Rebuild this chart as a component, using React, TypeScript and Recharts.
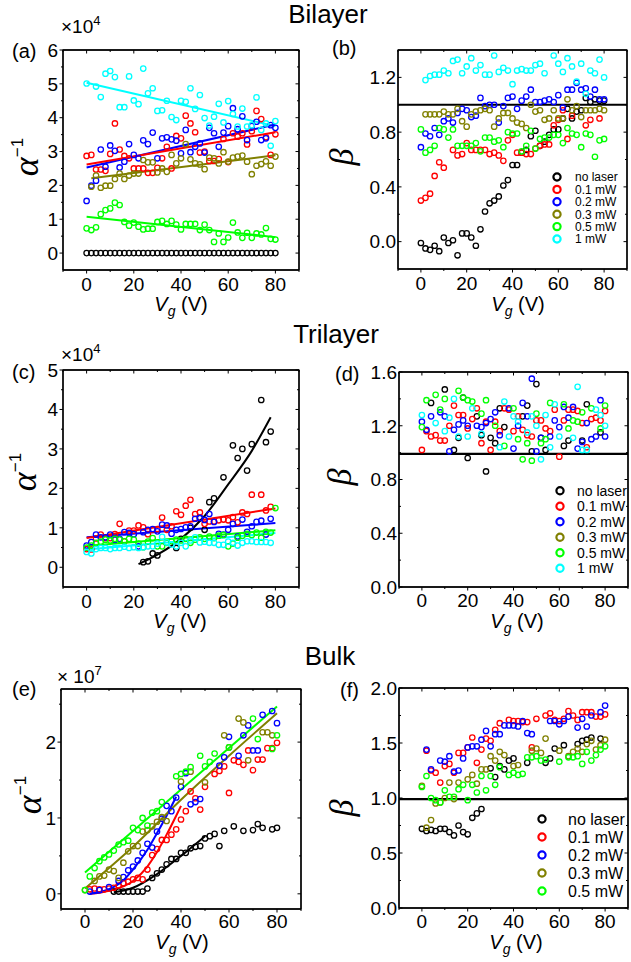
import React from 'react';
import { ComposedChart, Scatter, Line, XAxis, YAxis, ReferenceLine } from 'recharts';

const _ = null;
const VG = [0, 2, 4, 6, 8, 10, 12, 14, 16, 18, 20, 22, 24, 26, 28, 30, 32, 34, 36, 38, 40, 42, 44, 46, 48, 50, 52, 54, 56, 58, 60, 62, 64, 66, 68, 70, 72, 74, 76, 78, 80];
const LEGEND_LABELS = ['no laser', '0.1 mW', '0.2 mW', '0.3 mW', '0.5 mW', '1 mW'];
const COLORS = ['#000000', '#ff0000', '#0000ff', '#808000', '#00ff00', '#00ffff'];
const X_MAJOR = [0, 20, 40, 60, 80];
const X_MINOR = [-10, 10, 30, 50, 70, 90];

// ---------- (a) Bilayer alpha^-1 (x1e4)
const A_BLACK = [0, 0, 0, 0, 0, 0, 0, 0, 0, 0, 0, 0, 0, 0, 0, 0, 0, 0, 0, 0, 0, 0, 0, 0, 0, 0, 0, 0, 0, 0, 0, 0, 0, 0, 0, 0, 0, 0, 0, 0, 0];
const A_RED = [2.87, 2.90, 2.47, 2.47, 2.43, 2.93, 3.83, 3.06, 2.87, 2.80, 2.50, 2.50, 2.50, 2.37, 2.37, 2.52, 2.80, 3.14, 2.50, 3.46, 3.39, 4.06, 3.83, 3.57, 2.97, 3.00, 2.72, 2.72, 2.78, 3.37, 2.69, 3.54, 3.44, 3.54, 3.21, 3.60, 4.20, 3.96, 3.42, 2.90, 3.51];
const A_BLUE = [1.54, 1.99, 2.14, 3.06, 2.55, 3.18, 3.02, 2.53, 2.70, 3.22, 2.90, 2.80, 3.33, 3.22, 3.56, 2.80, 3.39, 3.42, 3.36, 3.32, 2.95, 3.64, 2.98, 3.14, 3.24, 2.97, 3.70, 3.54, 3.14, 3.56, 3.75, 4.28, 3.66, 4.04, 3.34, 3.75, 3.88, 3.34, 3.39, 3.78, 3.70];
const A_OLIVE = [_, 1.96, 2.29, 1.93, 1.99, 1.99, 2.19, 2.35, 2.19, 2.29, 2.35, 2.35, 2.75, 2.68, 2.68, 2.38, 2.50, 2.40, 2.90, 2.65, 2.80, 3.22, 2.77, 2.65, 2.62, 2.48, 2.82, 2.80, 2.65, 2.98, 2.70, 2.82, 2.85, 2.88, 2.70, 2.33, 2.58, 2.63, 2.71, 2.58, 2.85];
const A_GREEN = [0.73, 0.68, 0.76, 1.15, 1.27, 1.32, 1.49, 1.42, 0.92, 0.81, 0.90, 0.78, 0.70, 0.72, 0.72, 0.92, 0.95, 0.86, 0.95, 0.84, 0.70, 0.86, 0.86, 0.86, 0.68, 0.84, 0.68, 0.33, 0.58, 0.33, 0.46, 0.90, 0.61, 0.45, 0.60, 0.45, 0.58, 0.55, 0.74, 0.42, 0.40];
const A_CYAN = [5.01, _, 4.92, 4.61, 5.30, 5.38, 5.20, 4.31, 4.31, 5.22, 4.51, 4.40, 5.45, 4.72, 4.87, 4.20, 4.22, 4.50, 4.02, 3.93, 4.50, 4.47, 4.87, 4.26, 4.67, 3.99, 3.77, 4.03, 4.41, 3.86, 4.49, 4.11, 3.74, 4.27, 3.74, 3.78, 4.60, 3.64, 3.83, 3.17, 3.90];
const A_FIT_RED = [[0, 2.62], [80, 3.57]];
const A_FIT_BLUE = [[0, 2.53], [80, 3.80]];
const A_FIT_OLIVE = [[2, 2.21], [80, 2.89]];
const A_FIT_GREEN = [[0, 1.07], [80, 0.47]];
const A_FIT_CYAN = [[0, 5.03], [80, 3.75]];

// ---------- (b) Bilayer beta
const B_BLACK = [-0.01, -0.05, -0.06, -0.03, -0.07, 0.03, -0.01, 0.01, -0.10, 0.06, 0.06, 0.03, -0.03, 0.09, 0.22, 0.28, 0.30, 0.33, 0.41, 0.45, 0.56, 0.56, 0.65, 0.67, 0.77, 0.81, 0.70, 0.73, 0.78, 0.82, 0.82, 0.90, 0.97, 0.90, 0.95, 0.96, 1.05, 1.02, 1.04, 1.03, 1.03];
const B_RED = [0.30, 0.32, 0.35, 0.48, 0.58, 0.54, _, 0.67, 0.63, 0.64, 0.72, 0.67, 0.67, 0.67, 0.67, 0.64, 0.65, 0.63, 0.59, 0.74, 0.78, 0.65, 0.65, 0.64, 0.64, 0.68, 0.70, 0.71, 0.71, 0.85, 0.89, 0.96, 0.75, 0.92, _, _, 0.85, 0.89, _, 0.90, _];
const B_BLUE = [0.69, 0.79, 0.77, 0.83, 0.78, 0.88, 0.90, 0.87, 0.94, 0.97, 0.96, 0.91, 0.92, 1.05, 0.99, 1.00, 1.00, 0.87, 0.99, 1.05, 1.06, 0.97, 1.03, 1.06, 1.11, 1.02, 1.02, 1.03, 1.04, 1.02, 1.07, 0.98, 1.11, 1.11, 1.16, 1.11, 1.12, 1.06, 1.11, 1.04, 1.04];
const B_OLIVE = [_, 0.93, 0.93, 0.93, 0.93, 0.95, 0.93, 0.93, 0.97, 0.88, 0.84, 0.93, 0.95, 0.96, 0.97, 0.96, 0.84, 0.90, 0.94, 0.94, 0.90, 0.87, 0.86, 0.83, 1.00, 0.95, 0.96, 0.89, 0.90, 0.96, 0.90, 0.90, 1.04, 0.96, 0.99, 0.91, 0.96, 0.96, 0.96, 0.97, 0.96];
const B_GREEN = [0.82, 0.65, 0.67, 0.70, 0.83, 0.82, 0.76, 0.82, 0.70, 0.70, 0.70, 0.70, 0.72, 0.66, 0.76, 0.76, 0.73, 0.74, 0.69, 0.80, 0.79, 0.79, 0.66, 0.70, 0.81, 0.68, 0.75, 0.76, 0.76, 0.78, 0.78, 0.72, 0.83, 0.79, 0.78, 0.69, 0.79, 0.78, 0.62, 0.74, 0.75];
const B_CYAN = [_, 1.18, 1.21, 1.22, 1.22, 1.25, 1.23, 1.32, 1.33, 1.23, 1.28, 1.34, 1.25, 1.29, 1.22, 1.22, 1.36, 1.24, 1.27, 1.25, 1.15, 1.25, 1.26, 1.25, 1.25, 1.29, 1.30, 1.23, _, 1.36, 1.30, 1.24, 1.34, 1.28, 1.17, 1.30, 1.08, 1.25, 1.23, 1.33, 1.20];

// ---------- (c) Trilayer alpha^-1 (x1e4)
const C_BLACK = [_, _, _, _, _, _, _, _, _, _, _, _, 0.13, 0.15, 0.35, 0.30, _, _, _, 0.49, 0.72, _, 1.00, _, 1.25, 0.95, 1.65, 1.75, _, 2.28, _, 3.09, 2.77, 3.00, 2.45, 3.12, _, 4.24, 3.17, 3.44, _];
const C_RED = [0.46, 0.45, 0.73, 0.83, 0.74, 0.74, 0.84, 1.10, 0.66, 0.93, 0.93, 1.06, 1.01, 0.84, 0.95, 0.97, 1.26, 0.95, 1.04, 1.42, 1.33, 1.56, 1.71, 1.35, 1.39, 1.10, 1.16, 1.16, 1.19, 1.21, 1.19, 1.27, 1.14, 1.39, 1.35, 1.84, _, 1.84, 1.44, 1.53, _];
const C_BLUE = [0.55, 0.64, 0.83, 0.76, 0.76, 0.83, 0.70, 0.72, 0.89, 0.87, 0.84, 0.53, 0.89, 0.95, 0.97, 0.91, 1.08, 1.06, 0.85, 0.95, 0.97, 1.01, 1.04, 1.23, 1.25, 1.20, 1.35, 1.15, 0.85, 0.83, 0.95, 1.10, 0.78, 1.21, 0.90, 1.04, 1.15, 1.18, 0.83, 1.23, _];
const C_GREEN = [0.50, 0.55, 0.62, 0.65, 0.70, 0.68, 0.72, 0.70, 0.66, 0.72, 0.70, 0.60, 0.51, 0.65, 0.74, 0.53, 0.53, 0.62, 0.66, 0.70, 0.68, 0.72, 0.62, 0.70, 0.76, 0.72, 0.78, 0.74, 0.80, 0.82, 0.53, 0.60, 0.75, 0.80, 0.85, 0.82, 0.88, 0.75, 0.90, 0.88, 1.50];
const C_CYAN = [0.39, 0.35, 0.46, 0.49, 0.49, 0.46, 0.49, 0.49, 0.52, 0.49, 0.51, 0.49, 0.51, 0.53, 0.53, 0.60, 0.77, 0.63, 0.58, 0.53, 0.62, 0.53, 0.68, 0.76, 0.63, 0.65, 0.62, 0.62, 0.57, 0.57, 0.65, 0.62, 0.55, 0.62, 0.66, 0.66, 0.64, 0.64, 0.64, 0.62, _];
const C_FIT_BLACK = [[22, 0.08], [30, 0.32], [40, 0.72], [50, 1.3], [60, 2.1], [70, 2.95], [78, 3.8]];
const C_FIT_RED = [[0, 0.74], [80, 1.49]];
const C_FIT_BLUE = [[0, 0.76], [80, 1.12]];
const C_FIT_GREEN = [[0, 0.54], [80, 0.94]];
const C_FIT_CYAN = [[0, 0.45], [80, 0.87]];

// ---------- (d) Trilayer beta
const D_BLACK = [_, _, 1.37, _, _, 1.47, _, 1.02, 1.11, 1.41, 0.96, _, 1.27, 1.13, 0.86, 1.11, 1.07, 1.33, 1.19, _, _, _, 1.27, 1.35, 1.01, 1.51, 1.11, 1.02, _, _, _, 1.05, 1.09, _, _, 1.09, 1.36, _, _, 1.15, _];
const D_RED = [1.02, 1.16, 1.12, 1.13, 1.09, 1.09, 1.20, 1.35, 1.28, 1.28, 1.18, 1.25, 1.33, 1.07, 1.23, 1.02, 1.23, 1.16, 1.33, 1.32, 1.16, 1.27, 1.17, 1.13, 1.12, 1.24, 1.24, 1.18, 1.16, 1.32, 0.97, 1.24, 1.32, 1.32, 1.31, 1.22, 1.04, 1.25, 1.26, 1.24, 1.31];
const D_BLUE = [1.23, 1.17, 1.27, _, 1.30, 1.27, 1.01, 1.17, 1.21, 1.24, 1.20, _, 1.20, 1.19, 1.22, 1.25, 1.30, 1.13, _, 1.33, 1.03, 1.20, 1.37, 1.27, 1.55, 1.01, 1.11, _, 1.12, 1.24, 1.19, 1.34, 1.26, 1.34, 1.03, 1.08, 1.22, 1.10, 1.12, 1.39, 1.12];
const D_GREEN = [1.19, 1.39, _, 1.43, 1.32, 1.40, _, _, 1.46, 1.41, 1.39, 1.38, _, 1.29, 1.39, _, 1.20, _, 1.05, _, 1.33, 1.10, 0.95, 1.07, 0.94, 1.29, 1.07, 1.10, 1.37, _, _, 1.36, 1.18, 1.24, 1.23, 1.30, _, 1.33, _, 1.18, 1.35];
const D_CYAN = [1.28, _, _, 1.22, _, 1.16, 1.26, 1.40, 1.12, _, 1.12, 1.33, _, 1.14, _, _, _, 1.04, 1.38, 1.12, 1.27, 1.23, _, 1.15, 1.27, 1.20, 0.95, 1.28, 1.04, 1.36, 1.12, _, _, 1.11, 1.49, 1.02, 1.02, _, 1.32, 1.28, 1.20];

// ---------- (e) Bulk alpha^-1 (x1e7)
const E_BLACK = [_, _, _, _, _, _, 0.03, 0.03, 0.03, 0.03, 0.03, 0.03, 0.03, 0.07, 0.21, 0.27, 0.32, 0.39, 0.46, 0.46, 0.54, 0.54, 0.60, 0.62, 0.63, 0.73, 0.76, 0.79, 0.63, 0.83, _, 0.89, _, 0.83, _, 0.84, 0.92, 0.87, _, 0.85, 0.87];
const E_RED = [_, 0.06, 0.07, 0.06, 0.06, 0.07, 0.08, 0.11, 0.14, 0.16, 0.19, 0.21, 0.19, 0.32, 0.51, 0.59, 0.71, 0.71, 0.78, 0.85, 0.98, 1.09, 1.35, 1.26, 1.11, 1.41, _, 1.58, 1.62, 1.68, 1.33, 1.76, 1.74, 1.70, 1.89, 1.63, 1.77, 1.77, 1.92, 1.92, 1.99];
const E_BLUE = [_, 0.03, _, 0.05, _, 0.09, _, 0.17, 0.22, 0.31, 0.36, 0.44, 0.54, 0.66, 0.61, 0.82, 0.99, 1.16, 1.09, 1.27, 1.41, 1.59, 1.18, 1.21, 1.25, _, _, _, 1.69, 1.80, 2.07, _, 1.82, 2.09, 2.22, 1.89, 1.89, 2.36, _, 2.41, 2.25];
const E_OLIVE = [0.05, _, 0.17, 0.23, 0.24, 0.32, 0.30, 0.21, 0.41, 0.56, 0.63, 0.63, 0.82, 0.84, 0.89, 0.95, 1.01, 0.96, _, _, 1.48, _, 1.61, _, _, 1.47, _, _, _, 2.09, 1.93, _, 2.31, 2.26, 1.76, _, _, 2.13, 2.13, 2.09, _];
const E_GREEN = [0.05, 0.23, 0.34, 0.43, 0.48, 0.52, 0.57, 0.65, 0.68, 0.70, 0.87, 0.84, 1.00, 0.90, 1.07, 1.09, 1.21, _, _, 1.55, 1.58, 1.61, 1.67, _, 1.82, 1.68, 1.74, 1.85, _, _, 1.93, _, _, _, _, 2.31, 2.04, _, _, 1.91, 2.09];
const E_FIT_BLACK = [[12, 0.02], [20, 0.08], [30, 0.26], [40, 0.5], [50, 0.76]];
const E_FIT_RED = [[2, 0.0], [10, 0.04], [20, 0.17], [26, 0.36], [30, 0.55], [34, 0.78], [38, 1.03], [40, 1.16]];
const E_FIT_BLUE = [[2, 0.0], [10, 0.06], [16, 0.18], [20, 0.32], [26, 0.58], [30, 0.8], [34, 1.03], [38, 1.28]];
const E_FIT_OLIVE = [[0, 0.07], [20, 0.62], [40, 1.24], [60, 1.82], [80, 2.38]];
const E_FIT_GREEN = [[0, 0.28], [80, 2.47]];

// ---------- (f) Bulk beta
const F_BLACK = [0.72, 0.70, 0.71, 0.70, 0.72, 0.72, 0.69, 0.66, 0.75, 0.69, 0.67, 0.82, 0.86, 0.90, _, 1.27, 1.19, 1.29, 1.26, 1.34, 1.36, _, _, 1.32, _, _, _, 1.32, 1.36, 1.45, _, 1.48, _, _, 1.49, 1.52, 1.53, 1.55, _, 1.54, _];
const F_RED = [_, 1.43, 1.25, 1.23, 1.14, 1.29, 1.31, 1.23, 1.41, 1.41, 1.46, 1.55, 1.32, 1.44, 1.54, 1.52, 1.62, 1.68, _, 1.71, 1.70, 1.70, 1.69, 1.69, 1.46, 1.72, _, 1.75, 1.77, 1.71, 1.70, 1.72, 1.79, 1.75, 1.71, 1.78, 1.78, 1.78, 1.74, 1.74, 1.76];
const F_BLUE = [_, 1.44, 1.26, _, 1.34, 1.33, 1.38, 1.24, 1.25, 1.36, 1.46, 1.47, 1.47, 1.53, 1.61, 1.47, 1.58, 1.58, 1.66, 1.66, 1.66, 1.65, 1.70, 1.59, 1.58, _, _, _, 1.70, 1.70, 1.67, 1.70, 1.74, _, 1.64, 1.72, 1.65, 1.75, _, 1.78, 1.84];
const F_OLIVE = [1.11, 0.73, 0.80, 0.95, 0.96, 1.00, 1.14, 0.99, 1.14, _, 1.17, 1.21, 1.13, 1.26, 1.26, 1.38, 1.34, 1.42, 1.39, _, 1.29, 1.30, _, _, 1.43, 1.45, 1.41, 1.54, _, _, 1.43, _, 1.38, 1.42, 1.45, 1.42, 1.49, 1.52, 1.44, 1.48, 1.53];
const F_GREEN = [1.10, 1.20, 1.00, 0.98, 0.96, 1.07, 1.01, 1.01, 1.08, 1.12, 0.98, 1.12, 1.05, 1.20, 1.07, 1.20, 1.12, 1.28, _, 1.21, 1.23, 1.21, 1.22, 1.37, 1.37, 1.38, 1.34, 1.35, _, _, 1.33, _, 1.37, 1.37, 1.38, 1.31, 1.42, 1.34, 1.39, 1.44, 1.47];

const SANS = '"Liberation Sans", Arial, Helvetica, sans-serif';
const SERIF = '"Liberation Serif", "Times New Roman", serif';

type Series = { c: number; v: (number | null)[] };
type Fit = { c: number; p: number[][]; curve?: boolean };
type PanelDef = {
  id: string; px: number; py: number; pw: number; ph: number;
  yDomain: [number, number]; yMajor: number[]; yMinor: number[]; yDigits: number;
  yOut: boolean; yGap: number; xLab: number; series: Series[]; fits: Fit[]; hline?: number;
};

const PANELS: PanelDef[] = [
  {
    id: 'a', px: 63, py: 50, pw: 236, ph: 220, yDomain: [-0.5, 6], yMajor: [0, 1, 2, 3, 4, 5, 6],
    yMinor: [0.5, 1.5, 2.5, 3.5, 4.5, 5.5], yDigits: 0, yOut: true, yGap: 5, xLab: 21,
    series: [{ c: 0, v: A_BLACK }, { c: 1, v: A_RED }, { c: 2, v: A_BLUE }, { c: 3, v: A_OLIVE }, { c: 4, v: A_GREEN }, { c: 5, v: A_CYAN }],
    fits: [{ c: 5, p: A_FIT_CYAN }, { c: 3, p: A_FIT_OLIVE }, { c: 4, p: A_FIT_GREEN }, { c: 2, p: A_FIT_BLUE }, { c: 1, p: A_FIT_RED }],
  },
  {
    id: 'b', px: 398, py: 50, pw: 229, ph: 219, yDomain: [-0.2, 1.4], yMajor: [0, 0.4, 0.8, 1.2],
    yMinor: [0.2, 0.6, 1.0], yDigits: 1, yOut: false, yGap: 2, xLab: 21,
    series: [{ c: 0, v: B_BLACK }, { c: 1, v: B_RED }, { c: 2, v: B_BLUE }, { c: 3, v: B_OLIVE }, { c: 4, v: B_GREEN }, { c: 5, v: B_CYAN }],
    fits: [], hline: 1.0,
  },
  {
    id: 'c', px: 63, py: 370, pw: 236, ph: 217, yDomain: [-0.5, 5], yMajor: [0, 1, 2, 3, 4, 5],
    yMinor: [0.5, 1.5, 2.5, 3.5, 4.5], yDigits: 0, yOut: true, yGap: 5, xLab: 21,
    series: [{ c: 0, v: C_BLACK }, { c: 1, v: C_RED }, { c: 2, v: C_BLUE }, { c: 4, v: C_GREEN }, { c: 5, v: C_CYAN }],
    fits: [{ c: 5, p: C_FIT_CYAN }, { c: 4, p: C_FIT_GREEN }, { c: 2, p: C_FIT_BLUE }, { c: 1, p: C_FIT_RED }, { c: 0, p: C_FIT_BLACK, curve: true }],
  },
  {
    id: 'd', px: 399, py: 372, pw: 229, ph: 215, yDomain: [0, 1.6], yMajor: [0, 0.4, 0.8, 1.2, 1.6],
    yMinor: [0.2, 0.6, 1.0, 1.4], yDigits: 1, yOut: false, yGap: 2, xLab: 20,
    series: [{ c: 0, v: D_BLACK }, { c: 1, v: D_RED }, { c: 2, v: D_BLUE }, { c: 4, v: D_GREEN }, { c: 5, v: D_CYAN }],
    fits: [], hline: 0.99,
  },
  {
    id: 'e', px: 61, py: 689, pw: 240, ph: 220, yDomain: [-0.2, 2.7], yMajor: [0, 1, 2],
    yMinor: [0.5, 1.5, 2.5], yDigits: 0, yOut: true, yGap: 5, xLab: 19,
    series: [{ c: 0, v: E_BLACK }, { c: 1, v: E_RED }, { c: 2, v: E_BLUE }, { c: 3, v: E_OLIVE }, { c: 4, v: E_GREEN }],
    fits: [{ c: 0, p: E_FIT_BLACK, curve: true }, { c: 1, p: E_FIT_RED, curve: true }, { c: 2, p: E_FIT_BLUE, curve: true }, { c: 3, p: E_FIT_OLIVE, curve: true }, { c: 4, p: E_FIT_GREEN }],
  },
  {
    id: 'f', px: 399, py: 688, pw: 229, ph: 220, yDomain: [0, 2], yMajor: [0, 0.5, 1, 1.5, 2],
    yMinor: [0.25, 0.75, 1.25, 1.75], yDigits: 1, yOut: false, yGap: 2, xLab: 20,
    series: [{ c: 0, v: F_BLACK }, { c: 1, v: F_RED }, { c: 2, v: F_BLUE }, { c: 3, v: F_OLIVE }, { c: 4, v: F_GREEN }],
    fits: [], hline: 0.99,
  },
];

const YW = 60, MT = 12, MR = 8, XH = 40;

const near = (list: number[], v: number) => list.some((m) => Math.abs(m - v) < 1e-6);

function toPoints(vals: (number | null)[]) {
  const out: { x: number; y: number }[] = [];
  VG.forEach((x, i) => {
    const y = vals[i];
    if (y !== null && y !== undefined) out.push({ x, y });
  });
  return out;
}

function Panel({ d }: { d: PanelDef }) {
  const W = YW + d.pw + MR;
  const H = MT + d.ph + XH;
  const xTicks = [...X_MAJOR, ...X_MINOR].sort((a, b) => a - b);
  const yTicks = [...d.yMajor, ...d.yMinor].sort((a, b) => a - b);

  const XTick = (props: any) => {
    const { x, y, payload } = props;
    const v = payload.value;
    const major = near(X_MAJOR, v);
    const L = major ? 3.5 : 2;
    return (
      <g>
        <line x1={x} y1={y} x2={x} y2={y + L} stroke="#000000" strokeWidth={1} />
        <line x1={x} y1={y - d.ph} x2={x} y2={y - d.ph + L} stroke="#000000" strokeWidth={1} />
        {major && (
          <text x={x} y={y + d.xLab} textAnchor="middle" fontSize={19} fontFamily={SANS} fill="#000">
            {String(v)}
          </text>
        )}
      </g>
    );
  };

  const YTick = (props: any) => {
    const { x, y, payload } = props;
    const v = payload.value;
    const major = near(d.yMajor, v);
    const L = major ? 3.5 : 2;
    const sx = d.yOut ? -L : L;
    return (
      <g>
        <line x1={x} y1={y} x2={x + sx} y2={y} stroke="#000000" strokeWidth={1} />
        <line x1={x + d.pw} y1={y} x2={x + d.pw - L} y2={y} stroke="#000000" strokeWidth={1} />
        {major && (
          <text x={x - d.yGap} y={y + 6.8} textAnchor="end" fontSize={19} fontFamily={SANS} fill="#000">
            {v.toFixed(d.yDigits)}
          </text>
        )}
      </g>
    );
  };

  return (
    <div style={{ position: 'absolute', left: d.px - YW, top: d.py - MT }}>
      <ComposedChart width={W} height={H} margin={{ top: MT, right: MR, bottom: 0, left: 0 }}>
        <XAxis
          type="number" dataKey="x" domain={[-10, 90]} ticks={xTicks} interval={0}
          tickSize={0} tickMargin={0} axisLine={{ stroke: '#000000', strokeWidth: 1.3 }} tickLine={false} height={XH}
          allowDataOverflow tick={XTick}
        />
        <YAxis
          type="number" dataKey="y" domain={d.yDomain} ticks={yTicks} interval={0}
          tickSize={0} tickMargin={0} axisLine={{ stroke: '#000000', strokeWidth: 1.3 }} tickLine={false} width={YW}
          allowDataOverflow tick={YTick}
        />
        <ReferenceLine x={90} stroke="#000000" strokeWidth={1.3} ifOverflow="visible" />
        <ReferenceLine y={d.yDomain[1]} stroke="#000000" strokeWidth={1.3} ifOverflow="visible" />
        {d.hline !== undefined && <ReferenceLine y={d.hline} stroke="#000000" strokeWidth={2.2} />}
        {d.series.map((s, i) => (
          <Scatter
            key={'s' + i}
            data={toPoints(s.v)}
            isAnimationActive={false}
            shape={(p: any) => (
              <circle cx={p.cx} cy={p.cy} r={2.7} fill="none" stroke={COLORS[s.c]} strokeWidth={1.3} />
            )}
          />
        ))}
        {d.fits.map((f, i) => (
          <Line
            key={'f' + i}
            data={f.p.map(([x, y]) => ({ x, y }))}
            dataKey="y"
            type={f.curve ? 'monotone' : 'linear'}
            stroke={COLORS[f.c]}
            strokeWidth={2}
            dot={false}
            activeDot={false}
            isAnimationActive={false}
          />
        ))}
      </ComposedChart>
    </div>
  );
}

const LEGENDS = [
  { cx: 557, tx: 575, y0: 177, dy: 12.4, fs: 12, n: 6 },
  { cx: 560, tx: 577, y0: 490.7, dy: 15.5, fs: 14, n: 6 },
  { cx: 542, tx: 568, y0: 819, dy: 18, fs: 16, n: 5 },
];

function AlphaLabel({ x, y }: { x: number; y: number }) {
  return (
    <text transform={`translate(${x},${y}) rotate(-90)`} textAnchor="middle" fill="#000">
      <tspan fontFamily={SERIF} fontStyle="italic" fontSize={36}>α</tspan>
      <tspan fontFamily={SANS} fontSize={17} dy={-15}>−1</tspan>
    </text>
  );
}

function BetaLabel({ x, y }: { x: number; y: number }) {
  return (
    <text transform={`translate(${x},${y}) rotate(-90)`} textAnchor="middle" fill="#000" fontFamily={SERIF} fontStyle="italic" fontSize={34}>
      β
    </text>
  );
}

function VgLabel({ x, y }: { x: number; y: number }) {
  return (
    <text x={x} y={y} textAnchor="middle" fill="#000" fontFamily={SANS} fontSize={20}>
      <tspan fontStyle="italic">V</tspan>
      <tspan fontStyle="italic" fontSize={14} dy={5}>g</tspan>
      <tspan dy={-5}> (V)</tspan>
    </text>
  );
}

function Mult({ x, y, exp, sp }: { x: number; y: number; exp: string; sp?: boolean }) {
  return (
    <text x={x} y={y} fill="#000" fontFamily={SANS} fontSize={19}>
      {sp ? '× 10' : '×10'}
      <tspan fontSize={13} dy={-8}>{exp}</tspan>
    </text>
  );
}

export default function App() {
  return (
    <div style={{ position: 'absolute', left: 0, top: 0, width: 631, height: 962, background: '#fff', overflow: 'hidden' }}>
      {PANELS.map((d) => (
        <Panel key={d.id} d={d} />
      ))}
      <svg width={631} height={962} style={{ position: 'absolute', left: 0, top: 0, pointerEvents: 'none' }}>
        {PANELS.map((d) => (
          <rect key={'fr' + d.id} x={d.px} y={d.py} width={d.pw} height={d.ph} fill="none" stroke="#000000" strokeWidth={1.2} />
        ))}
        <text x={328} y={23} textAnchor="middle" fontFamily={SANS} fontSize={26} fill="#000">Bilayer</text>
        <text x={336} y={343} textAnchor="middle" fontFamily={SANS} fontSize={26} fill="#000">Trilayer</text>
        <text x={330} y={665} textAnchor="middle" fontFamily={SANS} fontSize={26} fill="#000">Bulk</text>

        <text x={12} y={58} fontFamily={SANS} fontSize={20} fill="#000">(a)</text>
        <text x={332} y={55} fontFamily={SANS} fontSize={20} fill="#000">(b)</text>
        <text x={12} y={379} fontFamily={SANS} fontSize={20} fill="#000">(c)</text>
        <text x={335} y={381} fontFamily={SANS} fontSize={20} fill="#000">(d)</text>
        <text x={12} y={696} fontFamily={SANS} fontSize={20} fill="#000">(e)</text>
        <text x={340} y={697} fontFamily={SANS} fontSize={20} fill="#000">(f)</text>

        <Mult x={61} y={33} exp="4" />
        <Mult x={61} y={361} exp="4" />
        <Mult x={57} y={683} exp="7" sp />

        <AlphaLabel x={38} y={157} />
        <AlphaLabel x={36} y={472} />
        <AlphaLabel x={41} y={795} />
        <BetaLabel x={353} y={157} />
        <BetaLabel x={351} y={477} />
        <BetaLabel x={353} y={808} />

        <VgLabel x={181} y={311} />
        <VgLabel x={518} y={311} />
        <VgLabel x={180} y={628} />
        <VgLabel x={517} y={628} />
        <VgLabel x={182} y={949} />
        <VgLabel x={516} y={949} />

        {LEGENDS.map((lg, li) => (
          <g key={'lg' + li}>
            {LEGEND_LABELS.slice(0, lg.n).map((lab, i) => (
              <g key={lab}>
                <circle cx={lg.cx} cy={lg.y0 + i * lg.dy} r={3.6} fill="none" stroke={COLORS[i]} strokeWidth={2.2} />
                <text x={lg.tx} y={lg.y0 + i * lg.dy + lg.fs * 0.36} fontFamily={SANS} fontSize={lg.fs} fill="#000">
                  {lab}
                </text>
              </g>
            ))}
          </g>
        ))}
      </svg>
    </div>
  );
}
